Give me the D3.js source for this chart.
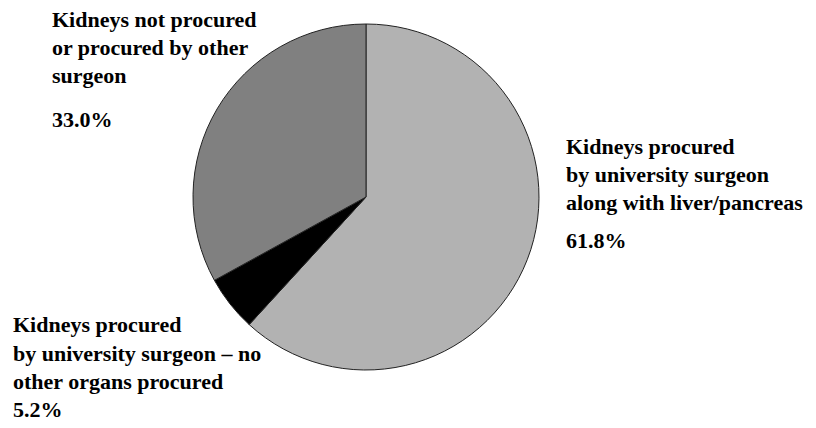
<!DOCTYPE html>
<html>
<head>
<meta charset="utf-8">
<script src="https://cdn.jsdelivr.net/npm/d3@7"></script>
</head>
<body style="margin:0">
<script>
// slice data, clockwise from 12 o'clock
const categories = [
  'Kidneys procured by university surgeon along with liver/pancreas',
  'Kidneys procured by university surgeon – no other organs procured',
  'Kidneys not procured or procured by other surgeon'
];
const values = [61.8, 5.2, 33.0];
const sliceColors = ['#b2b2b2', '#000000', '#808080'];

// label text blocks (lines, then the percentage)
const labelLines = [
  ['Kidneys procured', 'by university surgeon', 'along with liver/pancreas'],
  ['Kidneys procured', 'by university surgeon – no', 'other organs procured'],
  ['Kidneys not procured', 'or procured by other', 'surgeon']
];

const width = 816, height = 428;
const cx = 366, cy = 197, radius = 173;

const svg = d3.select('body').append('svg')
  .attr('width', width)
  .attr('height', height);

const data = categories.map((c, i) => ({ name: c, value: values[i], color: sliceColors[i], lines: labelLines[i] }));

const pie = d3.pie().value(d => d.value).sort(null);
const arc = d3.arc().innerRadius(0).outerRadius(radius);

svg.append('g')
  .attr('transform', `translate(${cx},${cy})`)
  .selectAll('path')
  .data(pie(data))
  .join('path')
  .attr('d', arc)
  .attr('fill', d => d.data.color)
  .attr('stroke', '#222')
  .attr('stroke-width', 1);

// label placement: x, baseline of first line, line step, gap before the percentage
const labelPos = [
  { x: 566, y: 154, step: 28, pctGap: 38 },
  { x: 13, y: 332, step: 28.5, pctGap: 28 },
  { x: 52, y: 27, step: 28, pctGap: 44 }
];

function styleText(sel) {
  return sel.style('font-family', 'Liberation Serif')
    .style('font-weight', 'bold')
    .style('font-size', '22px');
}

data.forEach((d, i) => {
  const p = labelPos[i];
  d.lines.forEach((line, j) => {
    styleText(svg.append('text'))
      .attr('x', p.x)
      .attr('y', p.y + j * p.step)
      .text(line);
  });
  styleText(svg.append('text'))
    .attr('x', p.x)
    .attr('y', p.y + (d.lines.length - 1) * p.step + p.pctGap)
    .text(d3.format('.1f')(d.value) + '%');
});

svg.selectAll('text').each(function() { this.getBBox(); });
</script>
</body>
</html>
